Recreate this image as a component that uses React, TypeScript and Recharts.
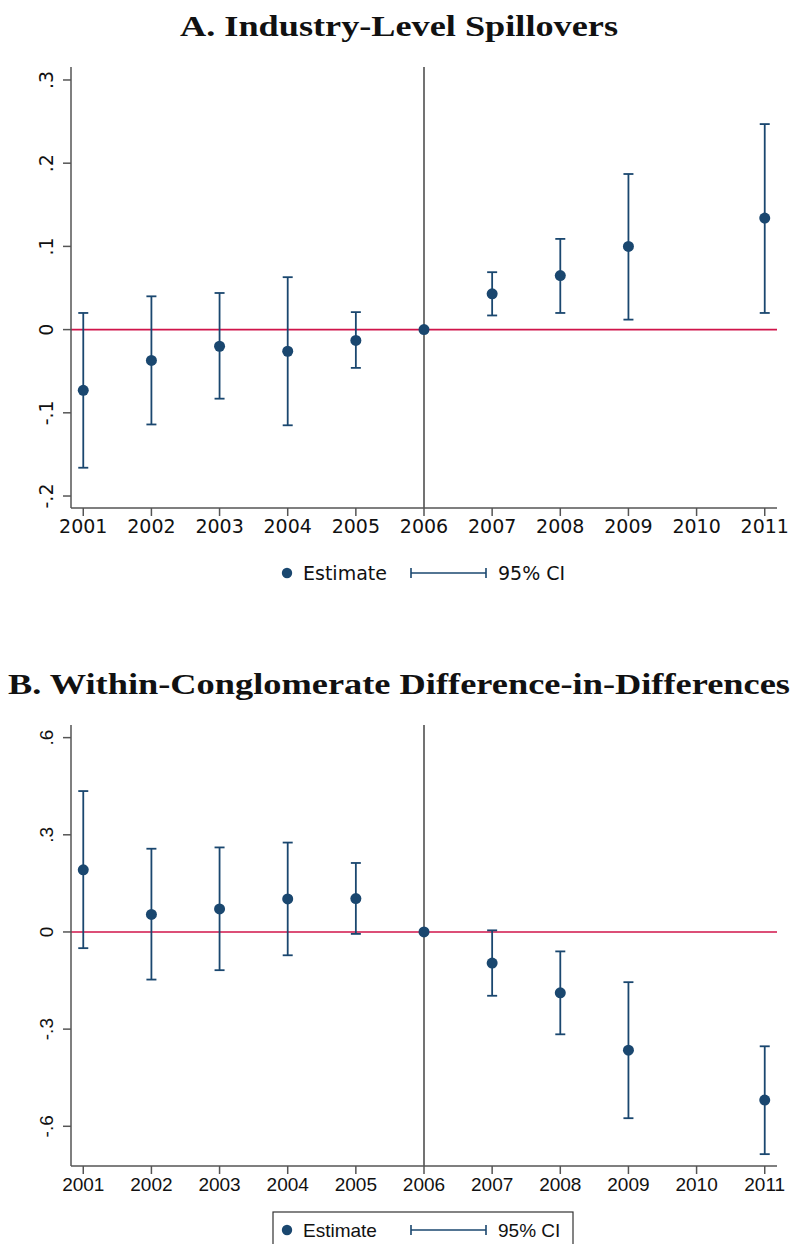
import React from "react";
import {
  ComposedChart,
  ErrorBar,
  ReferenceLine,
  Scatter,
  XAxis,
  YAxis,
} from "recharts";

const years = [2001, 2002, 2003, 2004, 2005, 2006, 2007, 2008, 2009, 2011];

// Panel A: industry-level spillovers
const estA = [-0.073, -0.037, -0.02, -0.026, -0.013, 0, 0.043, 0.065, 0.1, 0.134];
const loA = [-0.166, -0.114, -0.083, -0.115, -0.046, 0, 0.017, 0.02, 0.012, 0.02];
const hiA = [0.02, 0.04, 0.044, 0.063, 0.021, 0, 0.069, 0.109, 0.187, 0.247];
const ticksA = [-0.2, -0.1, 0, 0.1, 0.2, 0.3];

// Panel B: within-conglomerate diff-in-diff
const estB = [0.192, 0.054, 0.071, 0.102, 0.103, 0, -0.096, -0.188, -0.365, -0.519];
const loB = [-0.05, -0.147, -0.118, -0.072, -0.006, 0, -0.197, -0.316, -0.575, -0.686];
const hiB = [0.435, 0.257, 0.261, 0.276, 0.213, 0, 0.005, -0.06, -0.155, -0.353];
const ticksB = [-0.6, -0.3, 0, 0.3, 0.6];

const xTicks = [2001, 2002, 2003, 2004, 2005, 2006, 2007, 2008, 2009, 2010, 2011];

const NAVY = "#1A476F";
const RED = "#D0144A";
const AXIS = "#555555";

function buildRows(est: number[], lo: number[], hi: number[]) {
  return years.map((y, i) => ({
    year: y,
    est: est[i],
    ci: i === 5 ? undefined : [est[i] - lo[i], hi[i] - est[i]],
  }));
}

function fmtY(v: number) {
  if (Math.abs(v) < 1e-9) return "0";
  const s = String(Math.round(v * 10) / 10);
  return s.replace("0.", ".");
}

function YTick(props: any) {
  const { x, y, payload, font } = props;
  const bx = x - 10;
  return (
    <text
      x={bx}
      y={y}
      transform={`rotate(-90 ${bx} ${y})`}
      textAnchor="middle"
      fontFamily={font}
      fontSize={19}
      fill="#111"
    >
      {fmtY(payload.value)}
    </text>
  );
}

interface PanelProps {
  est: number[];
  lo: number[];
  hi: number[];
  yDomain: [number, number];
  yTicks: number[];
  font: string;
  top: number;
  marginTop: number;
}

function Panel({ est, lo, hi, yDomain, yTicks, font, top, marginTop }: PanelProps) {
  const rows = buildRows(est, lo, hi);
  const height = 580;
  const xAxisH = 40;
  const plotH = 441;
  const bottom = height - marginTop - plotH - xAxisH;
  return (
    <div style={{ position: "absolute", left: 0, top }}>
      <ComposedChart
        width={791}
        height={height}
        data={rows}
        margin={{ top: marginTop, right: 14, bottom, left: 21 }}
      >
        <XAxis
          dataKey="year"
          type="number"
          domain={[2000.82, 2011.18]}
          ticks={xTicks}
          allowDataOverflow
          height={xAxisH}
          stroke={AXIS}
          strokeWidth={1.5}
          tickSize={8}
          tickMargin={4}
          tick={{ fill: "#111", fontSize: 19, fontFamily: font }}
          interval={0}
        />
        <YAxis
          type="number"
          domain={yDomain}
          ticks={yTicks}
          allowDataOverflow
          width={50}
          stroke={AXIS}
          strokeWidth={1.5}
          tickSize={8}
          tickMargin={0}
          tick={<YTick font={font} />}
          interval={0}
        />
        <ReferenceLine y={0} stroke={RED} strokeWidth={1.6} />
        <ReferenceLine x={2006} stroke="#444" strokeWidth={1.5} />
        <Scatter
          dataKey="est"
          fill={NAVY}
          isAnimationActive={false}
          shape={(p: any) => <circle cx={p.cx} cy={p.cy} r={5.5} fill={NAVY} />}
        >
          <ErrorBar
            dataKey="ci"
            direction="y"
            width={5}
            stroke={NAVY}
            strokeWidth={1.8}
            isAnimationActive={false}
          />
        </Scatter>
      </ComposedChart>
    </div>
  );
}

function LegendRow({ y, font, boxed }: { y: number; font: string; boxed?: boolean }) {
  return (
    <g>
      {boxed && (
        <rect x={273} y={y - 18} width={300} height={60} fill="none" stroke="#333" strokeWidth={1.2} />
      )}
      <circle cx={287} cy={y} r={5.2} fill={NAVY} />
      <text x={303} y={y + 7} fontFamily={font} fontSize={19} fill="#111">
        Estimate
      </text>
      <line x1={411} y1={y} x2={486} y2={y} stroke={NAVY} strokeWidth={1.6} />
      <line x1={411} y1={y - 5} x2={411} y2={y + 5} stroke={NAVY} strokeWidth={1.6} />
      <line x1={486} y1={y - 5} x2={486} y2={y + 5} stroke={NAVY} strokeWidth={1.6} />
      <text x={498} y={y + 7} fontFamily={font} fontSize={19} fill="#111">
        95% CI
      </text>
    </g>
  );
}

export default function App() {
  return (
    <div
      style={{
        position: "absolute",
        left: 0,
        top: 0,
        width: 791,
        height: 1244,
        background: "#fff",
        overflow: "hidden",
      }}
    >
      <Panel
        est={estA}
        lo={loA}
        hi={hiA}
        yDomain={[-0.2144, 0.3156]}
        yTicks={ticksA}
        font="DejaVu Sans"
        top={0}
        marginTop={67}
      />
      <Panel
        est={estB}
        lo={loB}
        hi={hiB}
        yDomain={[-0.7226, 0.639]}
        yTicks={ticksB}
        font="Liberation Sans"
        top={660}
        marginTop={65}
      />
      <svg
        width={791}
        height={1244}
        style={{ position: "absolute", left: 0, top: 0, pointerEvents: "none" }}
      >
        <text
          x={180}
          y={36}
          textLength={438}
          lengthAdjust="spacingAndGlyphs"
          fontFamily="Liberation Serif"
          fontWeight="bold"
          fontSize={30}
          fill="#111"
        >
          A. Industry-Level Spillovers
        </text>
        <text
          x={8}
          y={694}
          textLength={782}
          lengthAdjust="spacingAndGlyphs"
          fontFamily="Liberation Serif"
          fontWeight="bold"
          fontSize={30}
          fill="#111"
        >
          B. Within-Conglomerate Difference-in-Differences
        </text>
        <LegendRow y={573} font="DejaVu Sans" />
        <LegendRow y={1230} font="Liberation Sans" boxed />
      </svg>
    </div>
  );
}
